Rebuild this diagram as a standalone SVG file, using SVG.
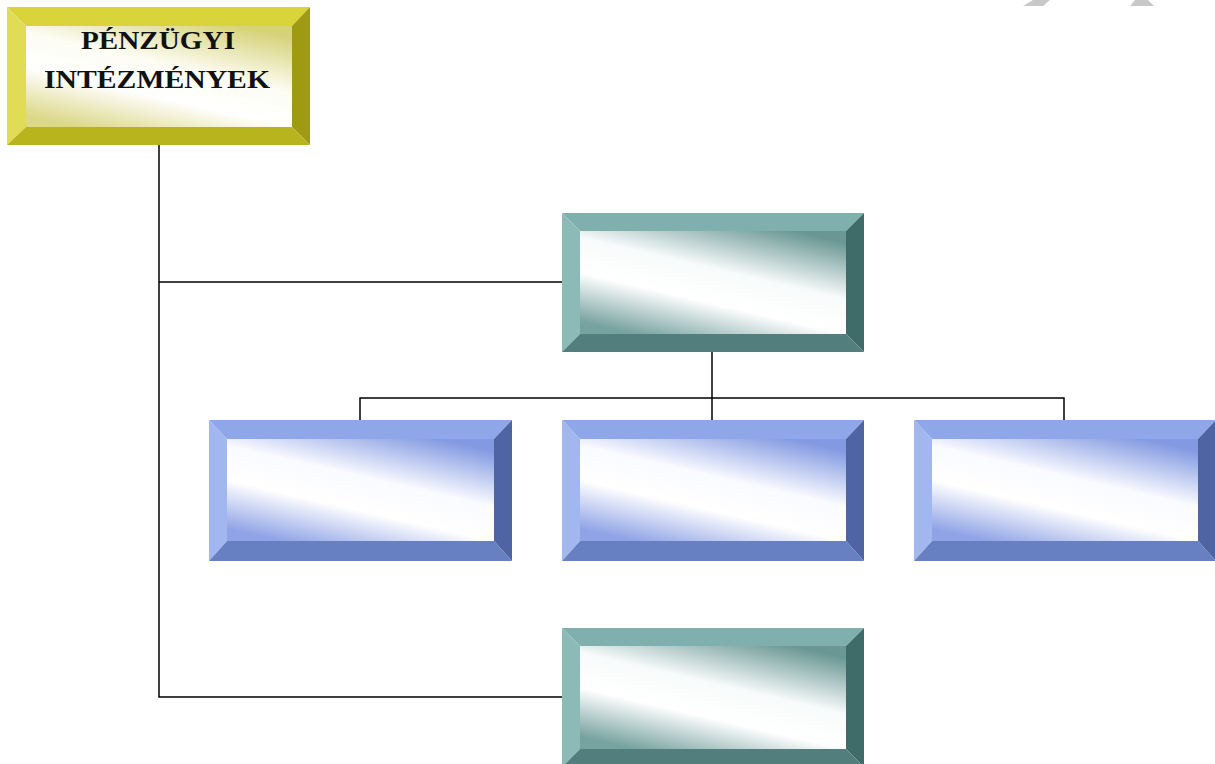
<svg xmlns="http://www.w3.org/2000/svg" width="1215" height="764" viewBox="0 0 1215 764">
  <defs>
    <linearGradient id="gY" x1="0.2" y1="1" x2="0.8" y2="0">
      <stop offset="0" stop-color="#dcd88a"/>
      <stop offset="0.35" stop-color="#ffffff"/>
      <stop offset="0.6" stop-color="#fdfdf4"/>
      <stop offset="1" stop-color="#d6d27a"/>
    </linearGradient>
    <linearGradient id="gT" x1="0.2" y1="1" x2="0.8" y2="0">
      <stop offset="0" stop-color="#76a29f"/>
      <stop offset="0.35" stop-color="#ffffff"/>
      <stop offset="0.6" stop-color="#f8fbfb"/>
      <stop offset="1" stop-color="#6a9794"/>
    </linearGradient>
    <linearGradient id="gB" x1="0.2" y1="1" x2="0.8" y2="0">
      <stop offset="0" stop-color="#8fa3e6"/>
      <stop offset="0.35" stop-color="#ffffff"/>
      <stop offset="0.6" stop-color="#fafbff"/>
      <stop offset="1" stop-color="#8399e1"/>
    </linearGradient>
  </defs>
  <style>
    .yT{fill:#d8d43a}.yL{fill:#e0dc55}.yR{fill:#9e9a12}.yB{fill:#b8b41e}.yF{fill:url(#gY)}
    .tT{fill:#7fb0ad}.tL{fill:#8cbab6}.tR{fill:#3f6b69}.tB{fill:#527f7d}.tF{fill:url(#gT)}
    .bT{fill:#8fa7e9}.bL{fill:#a2b6ef}.bR{fill:#4f64a2}.bB{fill:#6680c2}.bF{fill:url(#gB)}
    .conn{stroke:#000;stroke-width:1.5;fill:none}
    .lbl{font-family:"Liberation Serif","Times New Roman",serif;font-weight:bold;font-size:25px;fill:#111;text-anchor:middle}
    .wm{fill:#c8c8c8}
  </style>
  <rect width="1215" height="764" fill="#ffffff"/>
  <g id="watermark">
    <polygon class="wm" points="1033,0 1050,0 1043,6 1023,6"/>
    <polygon class="wm" points="1135,0 1148,0 1154,6 1130,6"/>
  </g>
  <g id="connectors">
    <polyline class="conn" points="159,145 159,697 562,697"/>
    <line class="conn" x1="159" y1="282" x2="562" y2="282"/>
    <line class="conn" x1="712" y1="352" x2="712" y2="420"/>
    <polyline class="conn" points="360,420 360,398 1064,398 1064,420"/>
  </g>
  <g id="node-penzugyi">
    <polygon class="yT" points="7,7 310,7 292,26 26,26"/>
    <polygon class="yL" points="7,7 26,26 26,127 7,145"/>
    <polygon class="yR" points="310,7 310,145 292,127 292,26"/>
    <polygon class="yB" points="7,145 26,127 292,127 310,145"/>
    <rect class="yF" x="26" y="26" width="266" height="101"/>
    <text class="lbl" x="158" y="49" textLength="154" lengthAdjust="spacingAndGlyphs">PÉNZÜGYI</text>
    <text class="lbl" x="157" y="88" textLength="226" lengthAdjust="spacingAndGlyphs">INTÉZMÉNYEK</text>
  </g>
  <g id="node-teal-1">
    <polygon class="tT" points="562,213 864,213 846,231 580,231"/>
    <polygon class="tL" points="562,213 580,231 580,334 562,352"/>
    <polygon class="tR" points="864,213 864,352 846,334 846,231"/>
    <polygon class="tB" points="562,352 580,334 846,334 864,352"/>
    <rect class="tF" x="580" y="231" width="266" height="103"/>
  </g>
  <g id="node-blue-1">
    <polygon class="bT" points="209,420 512,420 494,439 227,439"/>
    <polygon class="bL" points="209,420 227,439 227,541 209,561"/>
    <polygon class="bR" points="512,420 512,561 494,541 494,439"/>
    <polygon class="bB" points="209,561 227,541 494,541 512,561"/>
    <rect class="bF" x="227" y="439" width="267" height="102"/>
  </g>
  <g id="node-blue-2">
    <polygon class="bT" points="562,420 864,420 846,439 580,439"/>
    <polygon class="bL" points="562,420 580,439 580,541 562,561"/>
    <polygon class="bR" points="864,420 864,561 846,541 846,439"/>
    <polygon class="bB" points="562,561 580,541 846,541 864,561"/>
    <rect class="bF" x="580" y="439" width="266" height="102"/>
  </g>
  <g id="node-blue-3">
    <polygon class="bT" points="914,420 1216,420 1198,439 932,439"/>
    <polygon class="bL" points="914,420 932,439 932,541 914,561"/>
    <polygon class="bR" points="1216,420 1216,561 1198,541 1198,439"/>
    <polygon class="bB" points="914,561 932,541 1198,541 1216,561"/>
    <rect class="bF" x="932" y="439" width="266" height="102"/>
  </g>
  <g id="node-teal-2">
    <polygon class="tT" points="562,628 864,628 846,646 580,646"/>
    <polygon class="tL" points="562,628 580,646 580,749 562,767"/>
    <polygon class="tR" points="864,628 864,767 846,749 846,646"/>
    <polygon class="tB" points="562,767 580,749 846,749 864,767"/>
    <rect class="tF" x="580" y="646" width="266" height="103"/>
  </g>
</svg>
